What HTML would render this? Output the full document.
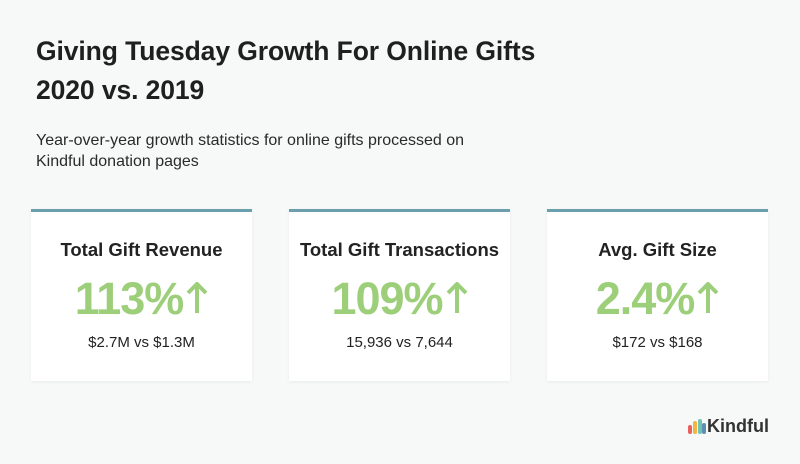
<!DOCTYPE html>
<html><head><meta charset="utf-8"><style>
body{margin:0;width:800px;height:464px;background:#f7f8f8;font-family:"Liberation Sans",sans-serif;position:relative;overflow:hidden;color:#222}
.t{position:absolute;left:36px;font-size:26.5px;font-weight:bold;color:#1f1f1f;letter-spacing:-0.1px}
.s{position:absolute;left:36px;top:130px;font-size:16px;line-height:21px;color:#2a2a2a;width:480px}
.card{position:absolute;top:209px;width:221px;height:169px;background:#fff;border-top:3px solid #6b9fae;box-shadow:0 1px 3px rgba(0,0,0,.06);text-align:center}
.ct{position:absolute;top:27px;left:0;right:0;font-size:18.5px;font-weight:bold;color:#222}
.cv{position:absolute;top:61px;left:0;right:0;font-size:45px;font-weight:bold;color:#9dcf7a;letter-spacing:-1px}
.cv svg{vertical-align:baseline;margin-left:3px}
.cs{position:absolute;top:122px;left:0;right:0;font-size:15px;color:#222}
</style></head><body>
<div class="t" style="top:36px">Giving Tuesday Growth For Online Gifts</div>
<div class="t" style="top:75px">2020 vs. 2019</div>
<div class="s">Year-over-year growth statistics for online gifts processed on Kindful donation pages</div>
<div class="card" style="left:31px"><div class="ct">Total Gift Revenue</div><div class="cv">113%<svg width="22" height="32" viewBox="0 0 22 32"><path d="M11 2 L11 31 M2 11 L11 2 L20 11" stroke="#9dcf7a" stroke-width="4" fill="none"/></svg></div><div class="cs">$2.7M vs $1.3M</div></div>
<div class="card" style="left:289px"><div class="ct">Total Gift Transactions</div><div class="cv">109%<svg width="22" height="32" viewBox="0 0 22 32"><path d="M11 2 L11 31 M2 11 L11 2 L20 11" stroke="#9dcf7a" stroke-width="4" fill="none"/></svg></div><div class="cs">15,936 vs 7,644</div></div>
<div class="card" style="left:547px"><div class="ct">Avg. Gift Size</div><div class="cv">2.4%<svg width="22" height="32" viewBox="0 0 22 32"><path d="M11 2 L11 31 M2 11 L11 2 L20 11" stroke="#9dcf7a" stroke-width="4" fill="none"/></svg></div><div class="cs">$172 vs $168</div></div>
<div style="position:absolute;left:687px;top:416px;height:20px">
<svg width="20" height="18" style="position:absolute;left:0;top:2px"><rect x="1" y="7" width="4" height="9" rx="2" fill="#e8625a"/><rect x="6" y="3" width="4" height="13" rx="2" fill="#f2b544"/><rect x="11" y="1" width="4" height="15" rx="2" fill="#6fc2b6"/><rect x="15" y="5" width="4" height="11" rx="2" fill="#5e8fb0"/></svg>
<span style="position:absolute;left:20px;top:0;font-size:18px;font-weight:bold;color:#333">Kindful</span></div>
</body></html>
